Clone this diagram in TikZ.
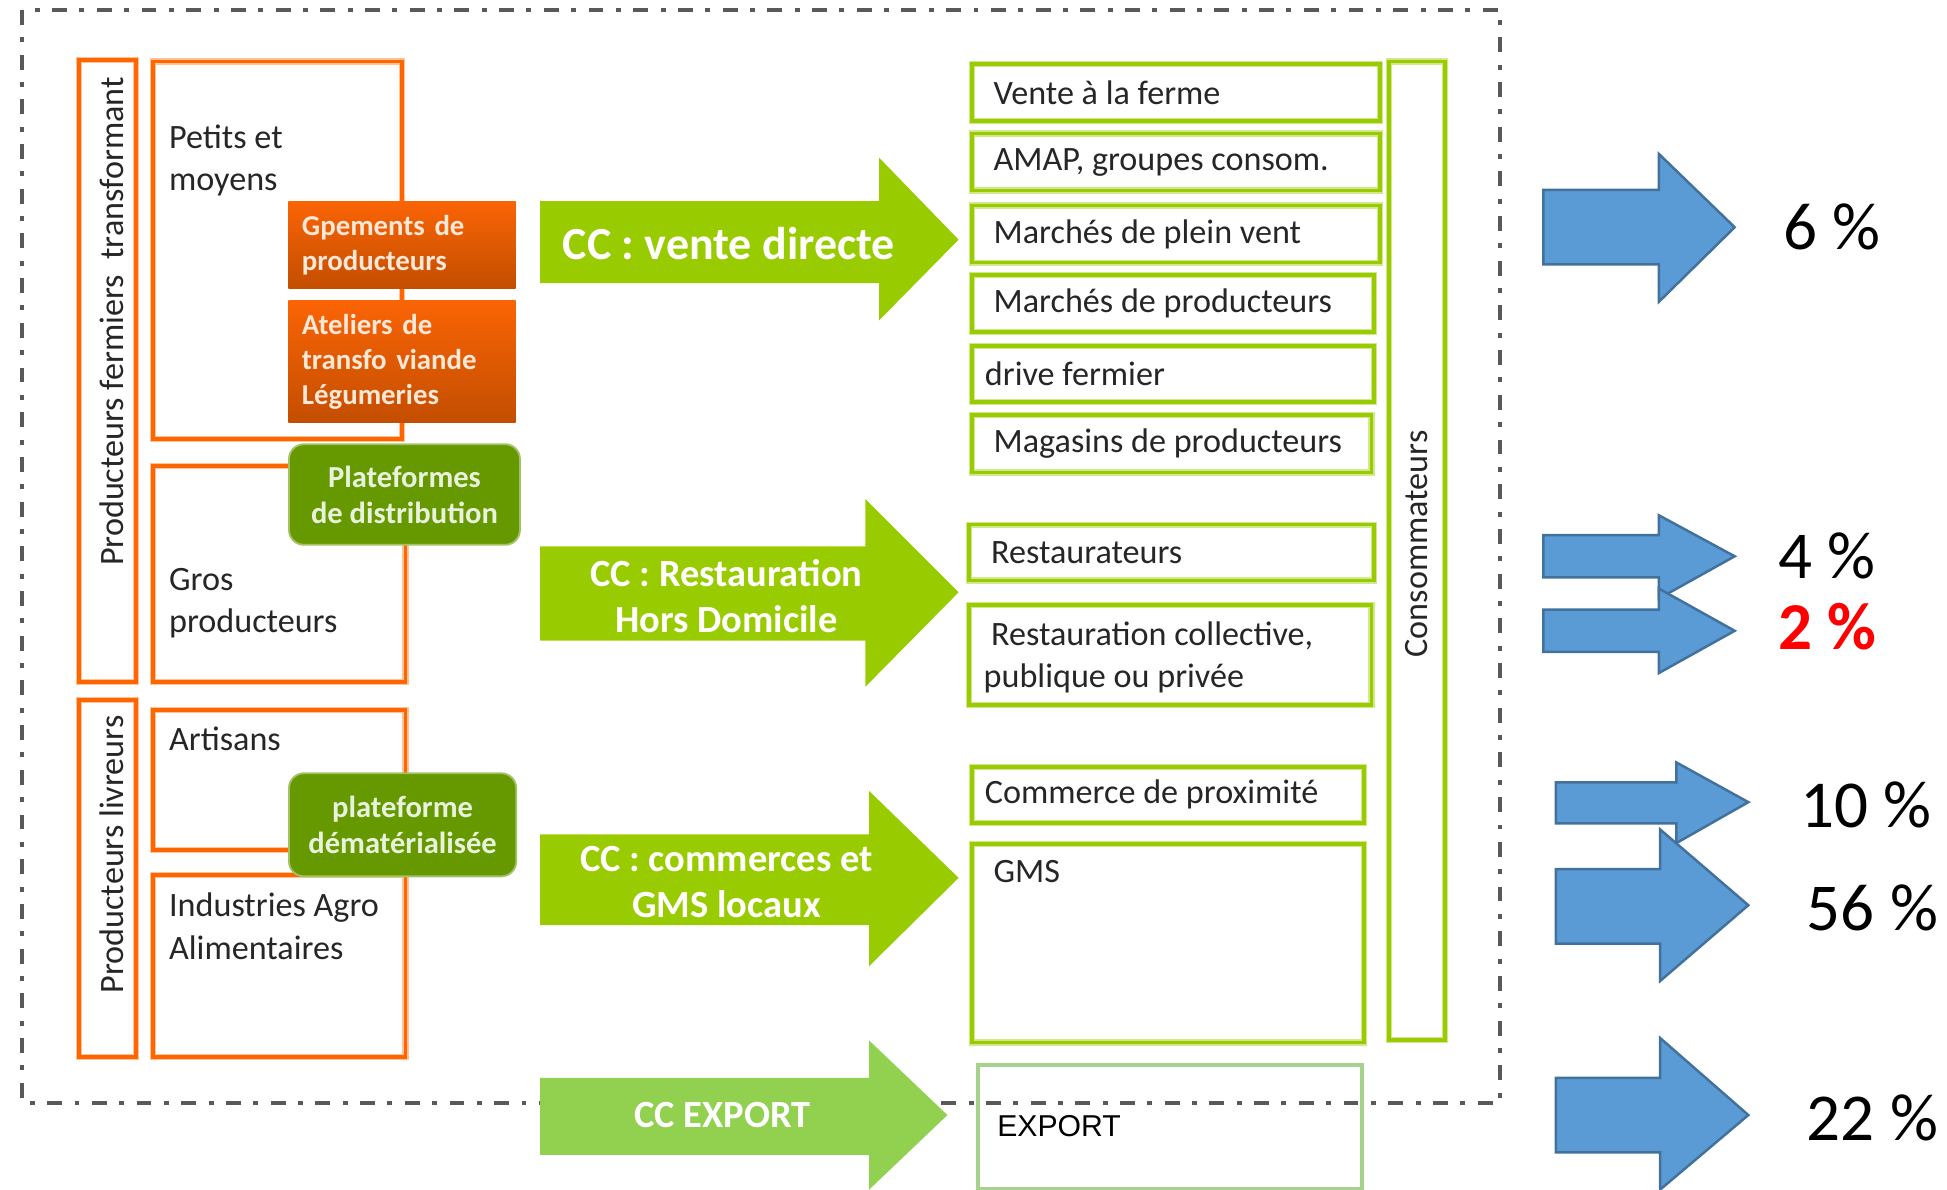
\documentclass[tikz,border=0pt]{standalone}
\usepackage{fontspec}
\setmainfont{Carlito}
\newfontfamily\arialfont{Liberation Sans}
\usepackage{tikz}
\usetikzlibrary{calc}

\definecolor{orangeline}{RGB}{255,102,0}
\definecolor{orangetop}{RGB}{250,100,5}
\definecolor{orangebot}{RGB}{195,78,0}
\definecolor{orangetxt}{RGB}{255,232,215}
\definecolor{darkgreen}{RGB}{102,153,0}
\definecolor{darkgreentxt}{RGB}{232,242,220}
\definecolor{limegreen}{RGB}{153,204,0}
\definecolor{exportgreen}{RGB}{146,208,80}
\definecolor{paleexport}{RGB}{169,209,142}
\definecolor{arrowblue}{RGB}{91,155,213}
\definecolor{arrowedge}{RGB}{65,113,156}
\definecolor{textdark}{RGB}{38,38,38}
\definecolor{framegray}{RGB}{89,89,89}

\tikzset{
  frame/.style={draw=framegray, line width=3, dash pattern=on 12 off 10 on 4 off 10},
  obox/.style={draw=orangeline, line width=3, anchor=north west, inner sep=0,
    preaction={draw=orangeline!40, line width=5}},
  ofill/.style={top color=orangetop, bottom color=orangebot, anchor=north west,
    inner xsep=11, inner ysep=0, text width=161, align=left, text=orangetxt,
    font=\bfseries\fontsize{23.2}{28}\selectfont},
  gdark/.style={fill=darkgreen, draw=darkgreen!60, line width=1.5, rounded corners=12,
    anchor=north west, inner sep=0, align=center, text=darkgreentxt,
    font=\bfseries\fontsize{24.6}{29}\selectfont},
  lbox/.style={draw=limegreen, line width=3, anchor=north west, inner sep=0,
    preaction={draw=limegreen!45, line width=5}},
  xbox/.style={draw=paleexport, line width=3.5, anchor=north west, inner sep=0},
  btxt/.style={text=textdark, inner sep=0, align=left, font=\fontsize{27.5}{34}\selectfont},
  ltxt/.style={btxt, anchor=west},
  ccarrow/.style={fill=limegreen},
  cctxt/.style={text=white, inner sep=0, align=center, font=\bfseries\fontsize{31}{37}\selectfont},
  bluearrow/.style={fill=arrowblue, draw=arrowedge, line width=2, line join=miter},
  pct/.style={anchor=west, inner sep=0, text=black, font=\fontsize{54}{60}\selectfont}
}

\begin{document}
\begin{tikzpicture}[x=1pt, y=-1pt]
  \useasboundingbox (0,0) rectangle (1568,958);

  % Frame
  \draw[frame] (18,8) rectangle (1208,888);

  % Producers
  \node[obox, minimum width=46, minimum height=501] (pft) at (62,47) {};
  \node[obox, minimum width=46, minimum height=288] (plv) at (62,562) {};
  \node[btxt, rotate=90, anchor=east] (pftt) at (90,62) {Producteurs fermiers~ transformant};
  \node[btxt, rotate=90, anchor=east] (plvt) at (90,576) {Producteurs livreurs};

  \node[obox, minimum width=200, minimum height=304] (pm) at (122,48) {};
  \node[obox, minimum width=203, minimum height=174] (gp) at (122,374) {};
  \node[obox, minimum width=203, minimum height=113] (art) at (122,570) {};
  \node[obox, minimum width=203, minimum height=147] (iaa) at (122,703) {};
  \node[btxt, anchor=west] (pmt) at (136,129) {Petits et\\moyens};
  \node[btxt, anchor=west] (gpt) at (136,486) {Gros\\producteurs};
  \node[btxt, anchor=base west] (artt) at (136,604) {Artisans};
  \node[btxt, anchor=west] (iaat) at (136,746) {Industries Agro\\Alimentaires};

  % Groupings and platforms
  \node[ofill, minimum height=70] (gpm) at (232,162) {Gpements de\\producteurs};
  \node[ofill, minimum height=98] (atl) at (232,242) {Ateliers de\\transfo viande\\Légumeries};
  \node[gdark, minimum width=186, minimum height=81] (pfd) at (232,357) {Plateformes\\de distribution};
  \node[gdark, minimum width=183, minimum height=83] (pfdm) at (232,622) {plateforme\\dématérialisée};

  % Short circuits
  \fill[ccarrow] (435,162) -- (708,162) -- (708,127) -- (772,193) -- (708,258) -- (708,228) -- (435,228) -- cycle;
  \fill[ccarrow] (435,440) -- (697,440) -- (697,402) -- (772,477) -- (697,553) -- (697,516) -- (435,516) -- cycle;
  \fill[ccarrow] (435,672) -- (700,672) -- (700,637) -- (772,707) -- (700,778) -- (700,745) -- (435,745) -- cycle;
  \fill[ccarrow, fill=exportgreen] (435,868) -- (700,868) -- (700,838) -- (763,898) -- (700,958) -- (700,930) -- (435,930) -- cycle;
  \node[cctxt, font=\bfseries\fontsize{37}{44}\selectfont] (vd) at (587,196) {CC : vente directe};
  \node[cctxt] (rhd) at (585,480) {CC : Restauration\\Hors Domicile};
  \node[cctxt] (cgl) at (585,710) {CC : commerces et\\GMS locaux};
  \node[cctxt] (exp) at (582,898) {CC EXPORT};

  % Outlets
  \node[lbox, minimum width=329, minimum height=46] (vf) at (781,50) {};
  \node[lbox, minimum width=329, minimum height=46] (amap) at (781,106) {};
  \node[lbox, minimum width=329, minimum height=46] (mpv) at (781,164) {};
  \node[lbox, minimum width=324, minimum height=46] (mdp) at (781,220) {};
  \node[lbox, minimum width=324, minimum height=45] (drv) at (781,277) {};
  \node[lbox, minimum width=322, minimum height=46] (mag) at (781,333) {};
  \node[lbox, minimum width=326, minimum height=45] (rst) at (779,421) {};
  \node[lbox, minimum width=324, minimum height=80] (rcol) at (779,486) {};
  \node[lbox, minimum width=316, minimum height=45] (com) at (781,616) {};
  \node[lbox, minimum width=316, minimum height=160] (gms) at (781,678) {};
  \node[xbox, minimum width=309, minimum height=100] (expb) at (786,856) {};
  \node[lbox, minimum width=45, minimum height=788] (cons) at (1117,48) {};

  \node[ltxt] (vft) at ([xshift=19]vf.west) {Vente à la ferme};
  \node[ltxt] (amapt) at ([xshift=19]amap.west) {AMAP, groupes consom.};
  \node[ltxt] (mpvt) at ([xshift=19]mpv.west) {Marchés de plein vent};
  \node[ltxt] (mdpt) at ([xshift=19]mdp.west) {Marchés de producteurs};
  \node[ltxt] (drvt) at ([xshift=12]drv.west) {drive fermier};
  \node[ltxt] (magt) at ([xshift=19]mag.west) {Magasins de producteurs};
  \node[ltxt] (rstt) at ([xshift=19]rst.west) {Restaurateurs};
  \node[ltxt] (rcolt) at ([xshift=13,yshift=-2]rcol.west) {\hspace{6pt}Restauration collective,\\publique ou privée};
  \node[ltxt] (comt) at ([xshift=12]com.west) {Commerce de proximité};
  \node[ltxt] (gmst) at (800,702) {GMS};
  \node[anchor=west, inner sep=0, font=\arialfont\fontsize{24.3}{29}\selectfont] (expt) at (803,907) {EXPORT};
  \node[btxt, rotate=90] (const) at (1141,438) {Consommateurs};

  % Shares
  \filldraw[bluearrow] (1243,153) -- (1336,153) -- (1336,124) -- (1397,183) -- (1336,243) -- (1336,213) -- (1243,213) -- cycle;
  \filldraw[bluearrow] (1243,431) -- (1336,431) -- (1336,415) -- (1397,448) -- (1336,482) -- (1336,465) -- (1243,465) -- cycle;
  \filldraw[bluearrow] (1243,491) -- (1336,491) -- (1336,474) -- (1397,508) -- (1336,542) -- (1336,525) -- (1243,525) -- cycle;
  \filldraw[bluearrow] (1253,630) -- (1350,630) -- (1350,614) -- (1408,646) -- (1350,679) -- (1350,663) -- (1253,663) -- cycle;
  \filldraw[bluearrow] (1253,700) -- (1337,700) -- (1337,668) -- (1408,729) -- (1337,790) -- (1337,760) -- (1253,760) -- cycle;
  \filldraw[bluearrow] (1253,868) -- (1337,868) -- (1337,836) -- (1408,898) -- (1337,958) -- (1337,928) -- (1253,928) -- cycle;

  \node[pct] (p6) at (1436,183) {6 \%};
  \node[pct] (p4) at (1432,448) {4 \%};
  \node[pct, text=red, font=\bfseries\fontsize{54}{60}\selectfont] (p2) at (1432,505) {2 \%};
  \node[pct] (p10) at (1450,648) {10 \%};
  \node[pct] (p56) at (1455,731) {56 \%};
  \node[pct] (p22) at (1455,900) {22 \%};

\end{tikzpicture}
\end{document}
